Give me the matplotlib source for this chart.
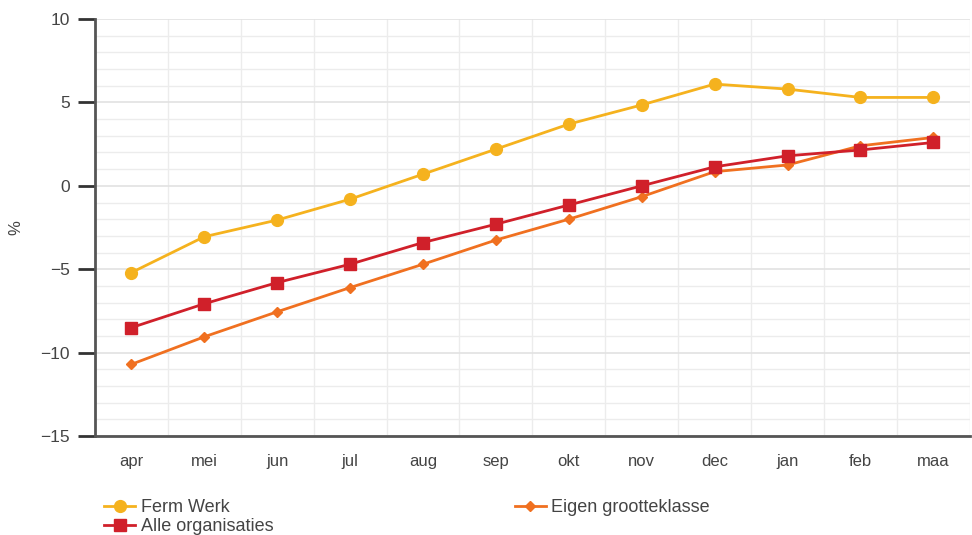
import matplotlib.pyplot as plt
from matplotlib.ticker import MultipleLocator

plt.rcParams['font.family'] = ['Liberation Sans', 'DejaVu Sans']

maanden = ['apr', 'mei', 'jun', 'jul', 'aug', 'sep', 'okt', 'nov', 'dec', 'jan', 'feb', 'maa']
ferm_werk = [-5.2, -3.05, -2.05, -0.8, 0.7, 2.2, 3.7, 4.85, 6.1, 5.8, 5.3, 5.3]
alle_org = [-8.5, -7.07, -5.8, -4.7, -3.4, -2.3, -1.15, 0.0, 1.14, 1.8, 2.15, 2.6]
eigen_klasse = [-10.7, -9.05, -7.55, -6.1, -4.7, -3.25, -2.0, -0.65, 0.85, 1.25, 2.4, 2.9]

fig = plt.figure(figsize=(9.72, 5.35), dpi=100)
ax = fig.add_axes([0.0977, 0.185, 0.9, 0.7794])

x = range(len(maanden))
l1, = ax.plot(x, ferm_werk, color='#F5B21E', lw=2, marker='o', ms=8.5, label='Ferm Werk', zorder=3)
l3, = ax.plot(x, eigen_klasse, color='#F07020', lw=2, marker='D', ms=5.5, label='Eigen grootteklasse', zorder=4)
l2, = ax.plot(x, alle_org, color='#D0202A', lw=2, marker='s', ms=8.5, label='Alle organisaties', zorder=5)

ax.set_xlim(-0.5, 11.2)
ax.set_ylim(-15, 10)
ax.set_xticks(list(x))
ax.set_xticklabels(maanden)
ax.set_xticks([i + 0.5 for i in range(-1, 12)], minor=True)
ax.yaxis.set_major_locator(MultipleLocator(5))
ax.yaxis.set_minor_locator(MultipleLocator(1))
ax.grid(which='minor', color='#ececec', lw=1)
ax.grid(which='major', axis='y', color='#e2e2e2', lw=1.2)
ax.set_axisbelow(True)

for s in ['top', 'right']:
    ax.spines[s].set_visible(False)
for s in ['left', 'bottom']:
    ax.spines[s].set_color('#555555')
    ax.spines[s].set_linewidth(2)

ax.tick_params(axis='y', which='major', length=12, width=2, color='#333333', labelsize=12.5, labelcolor='#444444', pad=6)
ax.tick_params(axis='y', which='minor', length=0)
ax.tick_params(axis='x', which='both', length=0, labelsize=12, labelcolor='#444444', pad=13)

ax.set_ylabel('%', fontsize=12, color='#444444')
ax.yaxis.set_label_coords(-0.082, 0.5)

fig.legend([l1, l2, l3], ['Ferm Werk', 'Alle organisaties', 'Eigen grootteklasse'],
           ncol=2, loc='upper left', bbox_to_anchor=(0.1, 0.08), frameon=False,
           fontsize=13, labelcolor='#444444', handlelength=1.7, columnspacing=13.4,
           labelspacing=0.1, handletextpad=0.3, borderaxespad=0)

fig.savefig('out.png', dpi=100)
